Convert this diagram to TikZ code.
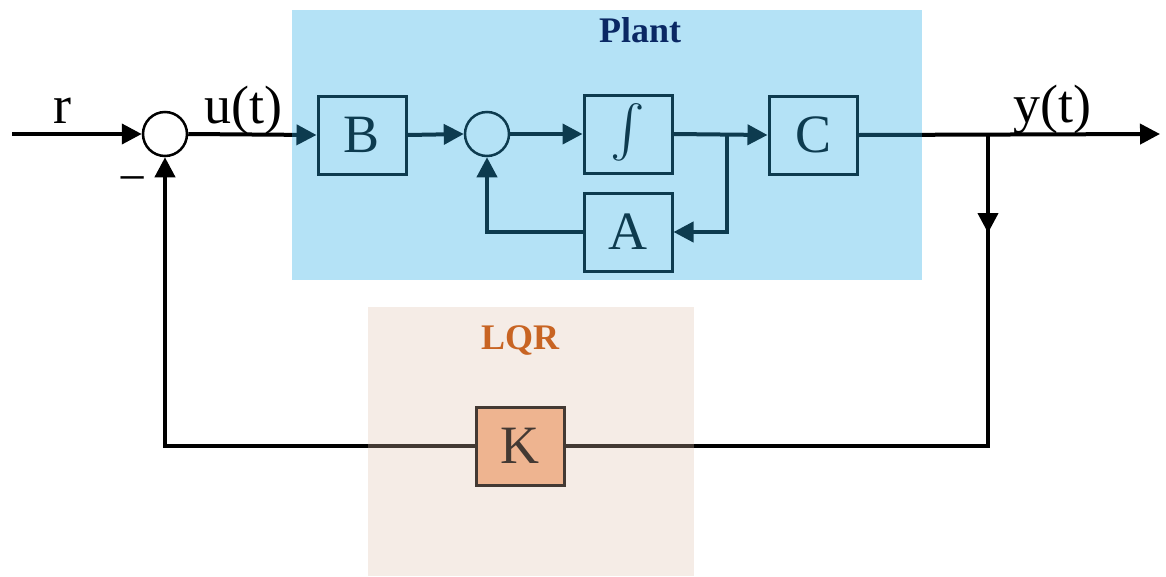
\documentclass[tikz,border=0pt]{standalone}
\usepackage{fontspec}
\setmainfont{Liberation Serif}
\usetikzlibrary{arrows.meta}
\definecolor{plantbg}{RGB}{40,171,229}
\definecolor{lqrbg}{RGB}{222,192,172}
\definecolor{kfill}{RGB}{245,175,133}
\definecolor{planttxt}{RGB}{10,40,100}
\definecolor{lqrtxt}{RGB}{200,100,35}
\tikzset{
  sig/.style={line width=4pt, black},
  arr/.style={sig, -{Triangle[length=20pt,width=20pt]}},
  blk/.style={draw, line width=3pt, minimum width=88pt, minimum height=78pt, inner sep=0pt, font=\fontsize{54}{60}\selectfont},
  sumc/.style={draw, circle, line width=2.5pt, minimum size=44pt, inner sep=0pt},
  lbl/.style={font=\fontsize{54}{60}\selectfont, inner sep=0pt, anchor=base},
  title/.style={font=\fontsize{36}{40}\selectfont\bfseries, inner sep=0pt}
}
\begin{document}
\begin{tikzpicture}[x=1pt,y=-1pt]
\useasboundingbox (0,0) rectangle (1166,576);
% nodes
\coordinate (rin) at (12,134);
\node[sumc] (sum1) at (165,134) {};
\node[blk] (B) at (362,135) {B};
\node[sumc] (sum2) at (487,134) {};
\node[blk] (int) at (628,134) {\scalebox{5.2}{$\int$}};
\node[blk] (A) at (628,232) {A};
\node[blk] (C) at (813,135) {C};
\node[blk, fill=kfill] (K) at (520,446) {K};
\coordinate (yout) at (1160,134);
\coordinate (br1) at (727,134);
\coordinate (br1d) at (727,232);
\coordinate (br2) at (988,134);
\coordinate (ymid) at (988,233);
\coordinate (kc) at (988,446);
% labels
\node[lbl] (rl) at (62,123) {r};
\node[lbl] (ul) at (243,123) {u(t)};
\node[lbl] (yl) at (1052,122) {y(t)};
\node[font=\fontsize{50}{56}\selectfont, inner sep=0pt] (minus) at (133,186) {−};
% connectors
\draw[arr] (rin) -- (sum1.west);
\draw[arr] (sum1.east) -- (B.west);
\draw[arr] (B.east) -- (sum2.west);
\draw[arr] (sum2.east) -- (int.west);
\draw[arr] (int.east) -- (C.west);
\draw[arr] (br1) -- (br1d) -- (A.east);
\draw[arr] (A.west) -| (sum2.south);
\draw[arr] (C.east) -- (yout);
\draw[arr] (br2) -- (ymid);
\draw[sig] (br2) -- (kc) -- (K.east);
\draw[arr] (K.west) -| (sum1.south);
% overlays
\fill[plantbg, opacity=0.35] (292,10) rectangle (922,280);
\fill[lqrbg, opacity=0.3] (368,307) rectangle (694,576);
\node[title, text=planttxt] (plant) at (640,30) {Plant};
\node[title, text=lqrtxt] (lqr) at (520,340) {LQR};
\end{tikzpicture}
\end{document}
